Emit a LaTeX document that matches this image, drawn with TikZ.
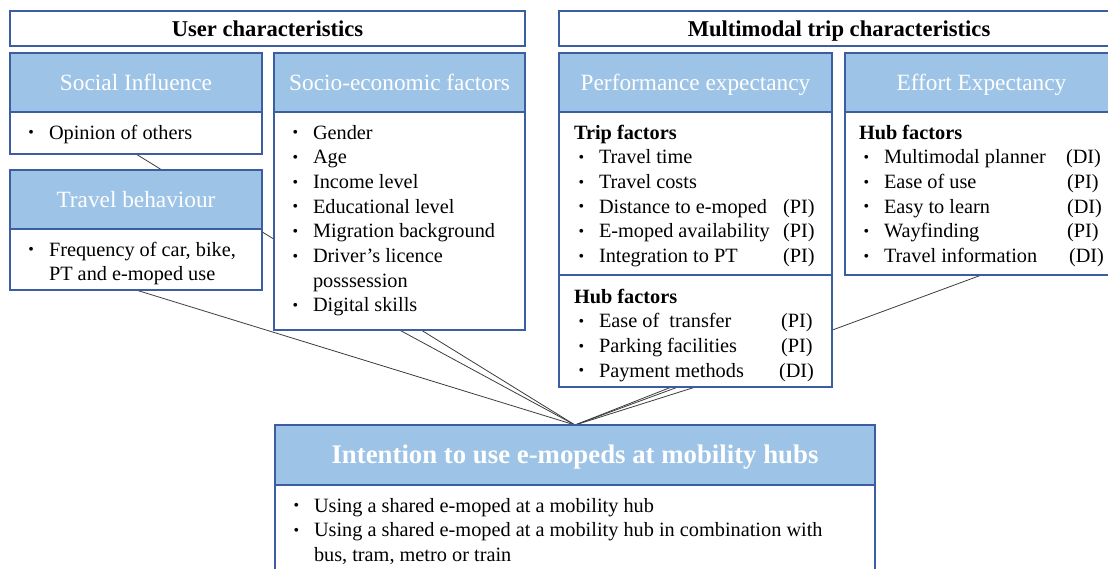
\documentclass[tikz,border=0pt]{standalone}
\usepackage{fontspec}
\setmainfont{Liberation Serif}
\usetikzlibrary{calc}
\pgfdeclarelayer{background}
\pgfsetlayers{background,main}
\definecolor{hdrblue}{HTML}{9DC3E6}
\definecolor{edgeblue}{HTML}{3B5EA3}
\definecolor{linkgray}{HTML}{3C3C3C}
% body text size, bullet column and tagged items
\newcommand\bodysize{\fontsize{20.3}{24.7}\selectfont}
\newcommand\bul{\makebox[22pt][l]{\hspace*{1.5pt}\raisebox{1.2pt}{\scalebox{0.78}{\textbullet}}}}
\newcommand\nobul{\hspace*{22pt}}
\newcommand\tagitem[3]{\bul\makebox[#1][l]{#2}#3}
\newcommand\grp[1]{\hspace*{-3pt}\textbf{#1}}
\newcommand\rows[1]{\begin{tabular}[t]{@{}l@{}}#1\end{tabular}}

\begin{document}
\begin{tikzpicture}[x=1pt,y=-1pt,
  box/.style={draw=edgeblue, line width=1.8pt, anchor=north west, inner sep=0pt, outer sep=0pt},
  titlebox/.style={box, fill=white, font=\fontsize{22.6}{26}\selectfont\bfseries, text height=15pt, text depth=0pt},
  headbox/.style={box, fill=hdrblue, text=white, font=\fontsize{23.3}{27}\selectfont, text height=15pt, text depth=0pt},
  bodybox/.style={box, fill=white},
  bodytext/.style={anchor=base west, inner sep=0pt, outer sep=0pt, font=\bodysize},
  link/.style={draw=linkgray, line width=0.8pt}]

\useasboundingbox (0,0) rectangle (1108,568);
\clip (0,0) rectangle (1108,568);

% group titles
\node[titlebox, minimum width=515pt, minimum height=35pt] (userchar) at (10,11) {User characteristics};
\node[titlebox, minimum width=560pt, minimum height=35pt] (tripchar) at (559,11) {Multimodal trip characteristics};

% user characteristics
\node[headbox, minimum width=252pt, minimum height=59pt] (sihead) at (10,53) {Social Influence};
\node[bodybox, minimum width=252pt, minimum height=42pt] (sibody) at (10,112) {};
\node[headbox, minimum width=251pt, minimum height=59pt] (sehead) at (274,53) {Socio-economic factors};
\node[bodybox, minimum width=251pt, minimum height=218pt] (sebody) at (274,112) {};
\node[headbox, minimum width=252pt, minimum height=59pt] (tbhead) at (10,170) {Travel behaviour};
\node[bodybox, minimum width=252pt, minimum height=61pt] (tbbody) at (10,229) {};

% multimodal trip characteristics
\node[headbox, minimum width=273pt, minimum height=59pt] (pehead) at (559,53) {Performance expectancy};
\node[bodybox, minimum width=273pt, minimum height=163pt] (petrip) at (559,112) {};
\node[bodybox, minimum width=273pt, minimum height=112pt] (pehub) at (559,275) {};
\node[headbox, minimum width=273pt, minimum height=59pt] (eehead) at (845,53) {Effort Expectancy};
\node[bodybox, minimum width=273pt, minimum height=163pt] (eebody) at (845,112) {};

% outcome
\node[headbox, minimum width=600pt, minimum height=60pt, font=\fontsize{26.8}{30}\selectfont\bfseries, text height=17.2pt] (intent) at (275,425) {Intention to use e-mopeds at mobility hubs};
\node[bodybox, minimum width=600pt, minimum height=100pt] (intbody) at (275,485) {};

% box contents
\node[bodytext] (sitext) at (27,139) {\rows{\bul Opinion of others}};
\node[bodytext] (tbtext) at (27,256) {\rows{\bul Frequency of car, bike,\\ \nobul PT and e-moped use}};
\node[bodytext] (setext) at (291,139) {\rows{%
  \bul Gender\\
  \bul Age\\
  \bul Income level\\
  \bul Educational level\\
  \bul Migration background\\
  \bul Driver’s licence\\
  \nobul posssession\\
  \bul Digital skills}};
\node[bodytext] (petriptext) at (577,139) {\rows{%
  \grp{Trip factors}\\
  \bul Travel time\\
  \bul Travel costs\\
  \tagitem{184pt}{Distance to e-moped}{(PI)}\\
  \tagitem{184pt}{E-moped availability}{(PI)}\\
  \tagitem{184pt}{Integration to PT}{(PI)}}};
\node[bodytext] (pehubtext) at (577,303) {\rows{%
  \grp{Hub factors}\\
  \tagitem{182pt}{Ease of\ \ transfer}{(PI)}\\
  \tagitem{182pt}{Parking facilities}{(PI)}\\
  \tagitem{180pt}{Payment methods}{(DI)}}};
\node[bodytext] (eetext) at (862,139) {\rows{%
  \grp{Hub factors}\\
  \tagitem{182pt}{Multimodal planner}{(DI)}\\
  \tagitem{183pt}{Ease of use}{(PI)}\\
  \tagitem{183pt}{Easy to learn}{(DI)}\\
  \tagitem{183pt}{Wayfinding}{(PI)}\\
  \tagitem{185pt}{Travel information}{(DI)}}};
\node[bodytext] (inttext) at (292,512) {\rows{%
  \bul Using a shared e-moped at a mobility hub\\
  \bul Using a shared e-moped at a mobility hub in combination with\\
  \nobul bus, tram, metro or train}};

% connectors, running behind the boxes
\coordinate (hubleft) at ($(pehub.south)+(-24,0)$);
\begin{pgfonlayer}{background}
\draw[link] (sibody.south) -- (intent.north);
\draw[link] (tbbody.south) -- (intent.north);
\draw[link] (sebody.south) -- (intent.north);
\draw[link] (pehub.south) -- (intent.north);
\draw[link] (hubleft) -- (intent.north);
\draw[link] (eebody.south) -- (intent.north);
\end{pgfonlayer}
\end{tikzpicture}
\end{document}
